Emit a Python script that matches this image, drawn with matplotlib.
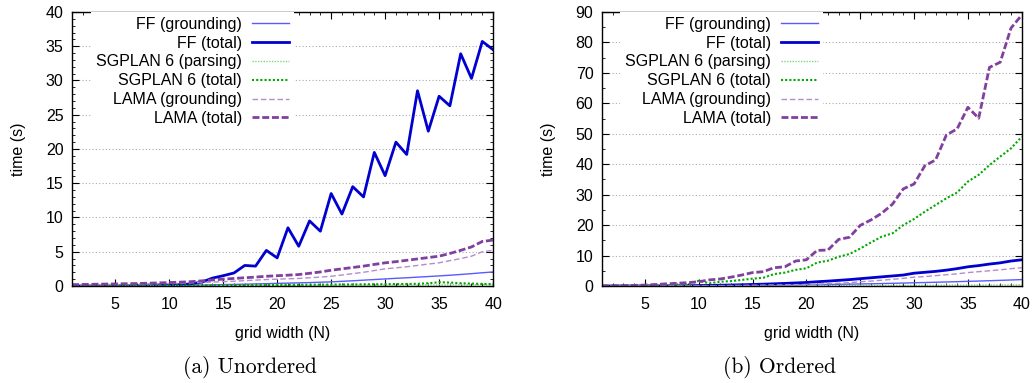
import numpy as np
import matplotlib
matplotlib.use("Agg")
import matplotlib.pyplot as plt
from matplotlib.ticker import MultipleLocator

x = list(range(1, 41))

# (a) Unordered
ff_ground_u = [0.0, 0.0, 0.01, 0.01, 0.02, 0.03, 0.04, 0.05, 0.06, 0.08,
               0.1, 0.12, 0.14, 0.17, 0.2, 0.23, 0.26, 0.3, 0.34, 0.38,
               0.42, 0.46, 0.5, 0.55, 0.6, 0.68, 0.76, 0.85, 0.94, 1.03,
               1.12, 1.2, 1.29, 1.38, 1.47, 1.57, 1.68, 1.8, 1.93, 2.05]
ff_total_u = [0.0, 0.0, 0.0, 0.01, 0.01, 0.02, 0.03, 0.05, 0.08, 0.12,
              0.2, 0.3, 0.55, 1.15, 1.5, 1.9, 3.0, 2.9, 5.2, 4.1,
              8.5, 5.8, 9.5, 8.0, 13.5, 10.5, 14.5, 13.0, 19.5, 16.1,
              21.0, 19.2, 28.5, 22.6, 27.7, 26.3, 33.9, 30.3, 35.7, 34.5]
sg_parse_u = [0.01, 0.01, 0.01, 0.01, 0.02, 0.02, 0.02, 0.03, 0.03, 0.04,
              0.04, 0.05, 0.05, 0.06, 0.06, 0.07, 0.07, 0.08, 0.08, 0.09,
              0.09, 0.1, 0.1, 0.11, 0.11, 0.12, 0.12, 0.13, 0.13, 0.14,
              0.14, 0.15, 0.15, 0.16, 0.17, 0.17, 0.18, 0.18, 0.19, 0.2]
sg_total_u = [0.01, 0.01, 0.01, 0.02, 0.02, 0.03, 0.03, 0.04, 0.05, 0.06,
              0.07, 0.08, 0.09, 0.1, 0.11, 0.12, 0.13, 0.14, 0.15, 0.16,
              0.17, 0.18, 0.19, 0.2, 0.21, 0.22, 0.23, 0.24, 0.25, 0.27,
              0.28, 0.3, 0.32, 0.4, 0.55, 0.5, 0.4, 0.35, 0.3, 0.28]
lama_ground_u = [0.15, 0.17, 0.19, 0.21, 0.23, 0.25, 0.28, 0.3, 0.33, 0.36,
                 0.4, 0.45, 0.5, 0.57, 0.63, 0.7, 0.78, 0.86, 0.94, 1.0,
                 1.05, 1.1, 1.2, 1.3, 1.42, 1.6, 1.8, 2.0, 2.25, 2.5,
                 2.65, 2.8, 3.0, 3.2, 3.38, 3.7, 4.0, 4.35, 5.0, 5.2]
lama_total_u = [0.2, 0.22, 0.25, 0.28, 0.3, 0.33, 0.36, 0.4, 0.45, 0.5,
                0.56, 0.63, 0.75, 0.88, 1.0, 1.1, 1.2, 1.3, 1.42, 1.5,
                1.58, 1.67, 1.85, 2.05, 2.3, 2.5, 2.7, 2.9, 3.15, 3.38,
                3.55, 3.75, 3.95, 4.15, 4.35, 4.75, 5.2, 5.7, 6.5, 6.7]

# (b) Ordered
ff_ground_o = [0.0, 0.0, 0.01, 0.01, 0.02, 0.03, 0.04, 0.05, 0.06, 0.08,
               0.1, 0.12, 0.14, 0.17, 0.2, 0.23, 0.27, 0.31, 0.35, 0.4,
               0.45, 0.5, 0.55, 0.6, 0.66, 0.72, 0.8, 0.88, 0.96, 1.05,
               1.14, 1.23, 1.32, 1.42, 1.52, 1.62, 1.73, 1.85, 1.97, 2.1]
ff_total_o = [0.0, 0.0, 0.01, 0.01, 0.02, 0.03, 0.05, 0.07, 0.1, 0.14,
              0.19, 0.25, 0.32, 0.4, 0.5, 0.6, 0.72, 0.85, 1.0, 1.15,
              1.4, 1.6, 1.85, 2.1, 2.4, 2.7, 3.0, 3.3, 3.6, 4.2,
              4.5, 4.8, 5.2, 5.7, 6.3, 6.7, 7.2, 7.6, 8.2, 8.6]
sg_parse_o = [0.01, 0.01, 0.01, 0.02, 0.02, 0.03, 0.03, 0.04, 0.04, 0.05,
              0.05, 0.06, 0.07, 0.07, 0.08, 0.09, 0.1, 0.1, 0.11, 0.12,
              0.13, 0.14, 0.15, 0.16, 0.17, 0.18, 0.19, 0.2, 0.21, 0.22,
              0.24, 0.25, 0.27, 0.28, 0.3, 0.31, 0.33, 0.35, 0.37, 0.4]
sg_total_o = [0.02, 0.03, 0.05, 0.08, 0.12, 0.18, 0.25, 0.35, 0.5, 1.7,
              0.9, 1.4, 1.6, 2.0, 2.4, 2.7, 3.9, 4.4, 5.3, 5.8,
              7.7, 8.3, 9.6, 10.5, 12.3, 14.3, 16.2, 17.3, 20.0, 22.0,
              24.4, 26.6, 28.8, 30.7, 34.3, 36.5, 39.7, 42.5, 45.2, 49.0]
lama_ground_o = [0.02, 0.02, 0.03, 0.03, 0.04, 0.05, 0.06, 0.07, 0.08, 0.1,
                 0.12, 0.14, 0.17, 0.2, 0.25, 0.29, 0.33, 0.38, 0.44, 0.5,
                 0.6, 0.75, 0.9, 1.1, 1.4, 1.6, 1.9, 2.2, 2.5, 2.9,
                 3.1, 3.4, 3.7, 4.0, 4.4, 4.7, 5.0, 5.3, 5.7, 6.0]
lama_total_o = [0.03, 0.05, 0.1, 0.2, 0.3, 0.5, 0.7, 0.9, 1.1, 1.4,
                2.0, 2.3, 2.9, 3.6, 4.4, 4.7, 6.0, 6.3, 8.2, 8.6,
                11.7, 11.8, 15.3, 16.0, 19.9, 21.7, 23.9, 26.9, 31.9, 33.5,
                39.5, 41.4, 49.6, 51.6, 58.7, 55.1, 71.8, 73.5, 84.7, 89.0]

labels = ["FF (grounding)", "FF (total)", "SGPLAN 6 (parsing)",
          "SGPLAN 6 (total)", "LAMA (grounding)", "LAMA (total)"]
y_ticks_u = list(range(0, 41, 5))
y_ticks_o = list(range(0, 91, 10))
x_ticks = list(range(5, 41, 5))
captions = ["(a) Unordered", "(b) Ordered"]

styles = [
    dict(color="#5a5aff", lw=1.0, ls="-"),
    dict(color="#0000d0", lw=2.0, ls="-"),
    dict(color="#7ed47e", lw=1.0, ls=(0, (1, 1))),
    dict(color="#00a800", lw=1.5, ls=(0, (1, 1))),
    dict(color="#b48ccc", lw=1.0, ls=(0, (4, 2))),
    dict(color="#8040a0", lw=2.0, ls=(0, (2.5, 1))),
]

FS = 11.5
plt.rcParams["font.family"] = ["Liberation Sans", "DejaVu Sans"]
fig = plt.figure(figsize=(10.35, 3.83), dpi=100)

axes_pos = [[0.0696, 0.2533, 0.4068, 0.7154], [0.5814, 0.2533, 0.4058, 0.7154]]
datasets = [
    [ff_ground_u, ff_total_u, sg_parse_u, sg_total_u, lama_ground_u, lama_total_u],
    [ff_ground_o, ff_total_o, sg_parse_o, sg_total_o, lama_ground_o, lama_total_o],
]
yticks_all = [y_ticks_u, y_ticks_o]
ymax = [40, 90]
yminor = [1, 5]
cap_x = [0.2415, 0.7531]

for i in range(2):
    ax = fig.add_axes(axes_pos[i])
    for series, lab, st in zip(datasets[i], labels, styles):
        ax.plot(x, series, label=lab, **st)
    ax.set_xlim(1, 40)
    ax.set_ylim(0, ymax[i])
    ax.set_xticks(x_ticks)
    ax.set_yticks(yticks_all[i])
    ax.xaxis.set_minor_locator(MultipleLocator(1))
    ax.yaxis.set_minor_locator(MultipleLocator(yminor[i]))
    ax.tick_params(which="both", direction="in", top=True, right=True, labelsize=FS)
    ax.tick_params(which="major", length=5, width=0.8)
    ax.tick_params(which="minor", length=2.5, width=0.6)
    ax.tick_params(axis="x", which="major", pad=8)
    ax.tick_params(axis="y", which="major", pad=6)
    ax.grid(axis="y", which="major", color="#aaaaaa", ls=(0, (1, 2)), lw=0.8)
    ax.set_axisbelow(True)
    for sp in ax.spines.values():
        sp.set_linewidth(1.0)
    ax.set_xlabel("grid width (N)", fontsize=FS)
    ax.set_ylabel("time (s)", fontsize=FS)
    ax.xaxis.set_label_coords(0.5, -0.145)
    ax.yaxis.set_label_coords(-0.109, 0.5)
    leg = ax.legend(loc="upper right", bbox_to_anchor=(0.526, 1.0), markerfirst=False,
                    frameon=True, fancybox=False, framealpha=1.0, edgecolor="none",
                    fontsize=FS, handlelength=2.3, handletextpad=0.63,
                    labelspacing=0.24, borderpad=0.3, borderaxespad=0.0)
    leg.get_frame().set_linewidth(0)
    fig.text(cap_x[i], 0.04, captions[i], ha="center", va="center",
             fontsize=15.5, family=["cmr10", "DejaVu Serif"])

fig.savefig("out.png", dpi=100)
